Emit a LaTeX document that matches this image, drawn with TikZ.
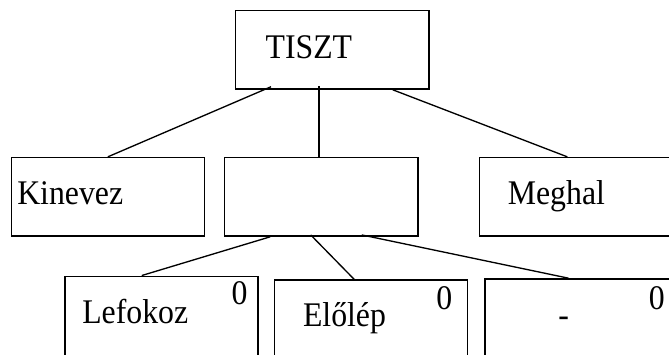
\documentclass[tikz,border=0pt]{standalone}
\usepackage{fontspec}
\setmainfont{Liberation Serif}[FakeStretch=0.92]
\usetikzlibrary{positioning,calc}

\begin{document}
\begin{tikzpicture}[font=\fontsize{26pt}{30pt}\selectfont,
    blk/.style={draw,line width=1pt,anchor=north west,inner sep=0pt,
                minimum width=5.11cm,minimum height=2.08cm},
    lbl/.style={anchor=base west,inner sep=0pt},
    link/.style={line width=1pt}]
  \useasboundingbox (0,0) rectangle (17.70,-9.366);
  \clip (0,0) rectangle (17.70,-9.366);
  % boxes
  \node[blk] (tiszt) at (6.22,-0.26) {};
  \node[blk] (kin) at (0.28,-4.15) {};
  \node[blk] (mid) at (5.93,-4.15) {};
  \node[blk,minimum width=7cm] (meg) at (12.66,-4.15) {};
  \node[blk,minimum height=2.4cm] (lef) at (1.70,-7.29) {};
  \node[blk,minimum height=2.4cm] (elo) at (7.24,-7.39) {};
  \node[blk,minimum width=7cm,minimum height=2.4cm] (dash) at (12.81,-7.36) {};
  % texts
  \node[lbl] at ([xshift=0.80cm,yshift=-1.28cm]tiszt.north west) {TISZT};
  \node[lbl] at ([xshift=0.17cm,yshift=-1.26cm]kin.north west) {Kinevez};
  \node[lbl] at ([xshift=0.77cm,yshift=-1.25cm]meg.north west) {Meghal};
  \node[lbl] at ([xshift=0.47cm,yshift=-1.28cm]lef.north west) {Lefokoz};
  \node[lbl] at ([xshift=0.77cm,yshift=-1.25cm]elo.north west) {Előlép};
  \node[anchor=base,inner sep=0pt] at ([xshift=2.10cm,yshift=-1.27cm]dash.north west) {-};
  \node[lbl] at ([xshift=4.42cm,yshift=-0.77cm]lef.north west) {0};
  \node[lbl] at ([xshift=4.30cm,yshift=-0.80cm]elo.north west) {0};
  \node[lbl] at ([xshift=4.35cm,yshift=-0.82cm]dash.north west) {0};
  % connectors
  \draw[link] ([xshift=0.95cm,yshift=0.08cm]tiszt.south west) -- (kin.north);
  \draw[link] ([xshift=2.22cm,yshift=0.1cm]tiszt.south west) coordinate (t2) -- (t2 |- mid.north);
  \draw[link] ([xshift=4.17cm]tiszt.south west) -- ([xshift=2.35cm]meg.north west);
  \draw[link] ([xshift=1.22cm]mid.south west) -- ([xshift=2.05cm]lef.north west);
  \draw[link] ([xshift=2.29cm,yshift=0.05cm]mid.south west) -- ([xshift=2.13cm]elo.north west);
  \draw[link] ([xshift=3.64cm,yshift=0.05cm]mid.south west) -- ([xshift=2.23cm]dash.north west);
\end{tikzpicture}
\end{document}
